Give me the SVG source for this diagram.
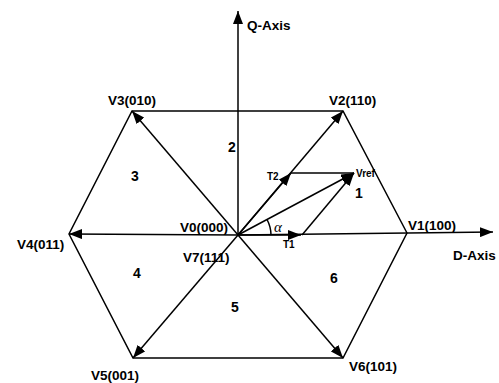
<svg xmlns="http://www.w3.org/2000/svg" width="499" height="383" viewBox="0 0 499 383">
<style>
.ln{stroke:#000;stroke-width:1.5;fill:none}
.t{font-family:"Liberation Sans",Arial,sans-serif;font-weight:bold;font-size:13.5px;fill:#000}
.s{font-family:"Liberation Sans",Arial,sans-serif;font-weight:bold;font-size:10px;fill:#000}
.n{font-family:"Liberation Sans",Arial,sans-serif;font-weight:bold;font-size:14px;fill:#000}
.a{font-family:"Liberation Serif","Times New Roman",serif;font-style:italic;font-size:15px;fill:#000}
</style>
<defs>
<marker id="ah" markerUnits="userSpaceOnUse" markerWidth="13" markerHeight="10" refX="13" refY="5" orient="auto">
<path d="M0,0 L13,5 L0,10 z" fill="#000"/>
</marker>
</defs>
<g id="hexagon">
<polygon class="ln" points="407,233 343,111 132,111 69,234 133,358 343,358"/>
</g>
<g id="connectors">
<line class="ln" x1="238" y1="235" x2="238" y2="11" marker-end="url(#ah)"/>
<line class="ln" x1="238" y1="235" x2="493" y2="232" marker-end="url(#ah)"/>
<line class="ln" x1="238" y1="235" x2="301" y2="235" marker-end="url(#ah)"/>
<line class="ln" x1="238" y1="235" x2="69" y2="234" marker-end="url(#ah)"/>
<line class="ln" x1="238" y1="235" x2="343" y2="111" marker-end="url(#ah)"/>
<line class="ln" x1="238" y1="235" x2="291" y2="173" marker-end="url(#ah)"/>
<line class="ln" x1="238" y1="235" x2="132" y2="111" marker-end="url(#ah)"/>
<line class="ln" x1="238" y1="235" x2="133" y2="358" marker-end="url(#ah)"/>
<line class="ln" x1="238" y1="235" x2="343" y2="358" marker-end="url(#ah)"/>
<line class="ln" x1="238" y1="235" x2="354" y2="173" marker-end="url(#ah)"/>
<line class="ln" x1="302" y1="235" x2="354" y2="173" marker-end="url(#ah)"/>
<line class="ln" x1="291" y1="173" x2="354" y2="173"/>
<path class="ln" d="M271,235 A33,33 0 0 0 267,219.5" stroke-width="1"/>
</g>
<g id="labels">
<text class="t" x="247" y="30">Q-Axis</text>
<text class="t" x="108" y="105">V3(010)</text>
<text class="t" x="329" y="105">V2(110)</text>
<text class="t" x="180" y="232">V0(000)</text>
<text class="t" x="17" y="249">V4(011)</text>
<text class="t" x="183" y="262">V7(111)</text>
<text class="t" x="408" y="230">V1(100)</text>
<text class="t" x="453" y="260">D-Axis</text>
<text class="t" x="91" y="380">V5(001)</text>
<text class="t" x="349" y="371">V6(101)</text>
<text class="s" x="267" y="180">T2</text>
<text class="s" x="283" y="248">T1</text>
<text class="s" x="356" y="177" font-size="11">V<tspan font-size="10">ref</tspan></text>
<text class="a" x="274" y="232">α</text>
<text class="n" x="228" y="152">2</text>
<text class="n" x="131" y="181">3</text>
<text class="n" x="355" y="198">1</text>
<text class="n" x="133" y="278">4</text>
<text class="n" x="330" y="283">6</text>
<text class="n" x="231" y="312">5</text>
</g>
</svg>
